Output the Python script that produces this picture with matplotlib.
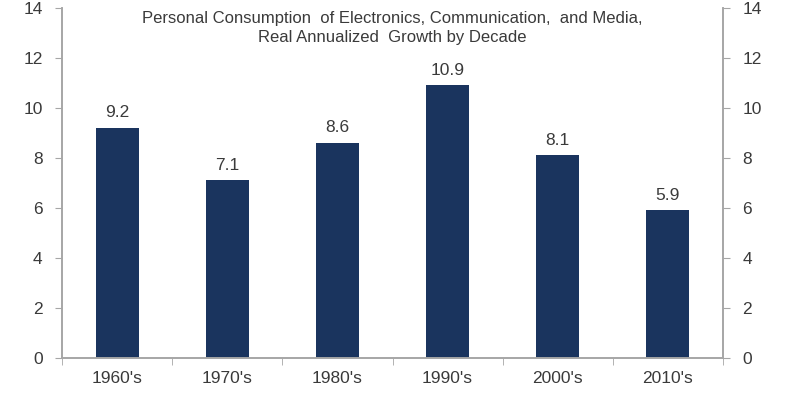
import matplotlib
matplotlib.use("Agg")
import matplotlib.pyplot as plt
import numpy as np

decades = ["1960's", "1970's", "1980's", "1990's", "2000's", "2010's"]
growth = [9.2, 7.1, 8.6, 10.9, 8.1, 5.9]
yticks = [0, 2, 4, 6, 8, 10, 12, 14]

plt.rcParams['font.family'] = ['Liberation Sans', 'DejaVu Sans']
bar_color = '#1A345E'
txt = '#3A3A3A'
spine = '#A6A6A6'

fig = plt.figure(figsize=(7.85, 3.93), dpi=100)
ax = fig.add_axes([0.079, 0.089, 0.842, 0.891])

x = np.arange(len(decades))
ax.bar(x, growth, width=0.39, color=bar_color, zorder=2)
for xi, v in zip(x, growth):
    ax.text(xi, v + 0.3, f"{v:.1f}", ha='center', va='bottom', fontsize=12.5, color=txt)

ax.set_xlim(-0.5, len(decades) - 0.5)
ax.set_ylim(0, 14)
ax.set_yticks(yticks)
ax.set_xticks(x)
ax.set_xticklabels(decades)
ax.set_xticks(np.arange(len(decades) + 1) - 0.5, minor=True)
ax.tick_params(axis='x', which='major', length=0, pad=9, labelsize=12.5, labelcolor=txt)
ax.tick_params(axis='x', which='minor', length=5, color=spine, direction='out')
ax.tick_params(axis='y', length=5, color=spine, labelsize=12.5, labelcolor=txt, pad=9)

ax2 = ax.twinx()
ax2.set_ylim(0, 14)
ax2.set_yticks(yticks)
ax2.tick_params(axis='y', length=5, color=spine, labelsize=12.5, labelcolor=txt, pad=9)

for a in (ax, ax2):
    a.spines['top'].set_visible(False)
    for s in ('left', 'right', 'bottom'):
        a.spines[s].set_color(spine)
        a.spines[s].set_linewidth(1.2)

ax.text(0.5, 0.99, "Personal Consumption  of Electronics, Communication,  and Media,\nReal Annualized  Growth by Decade",
        transform=ax.transAxes, ha='center', va='top', fontsize=12, color=txt, linespacing=1.3)

fig.savefig("out.png", dpi=100)
